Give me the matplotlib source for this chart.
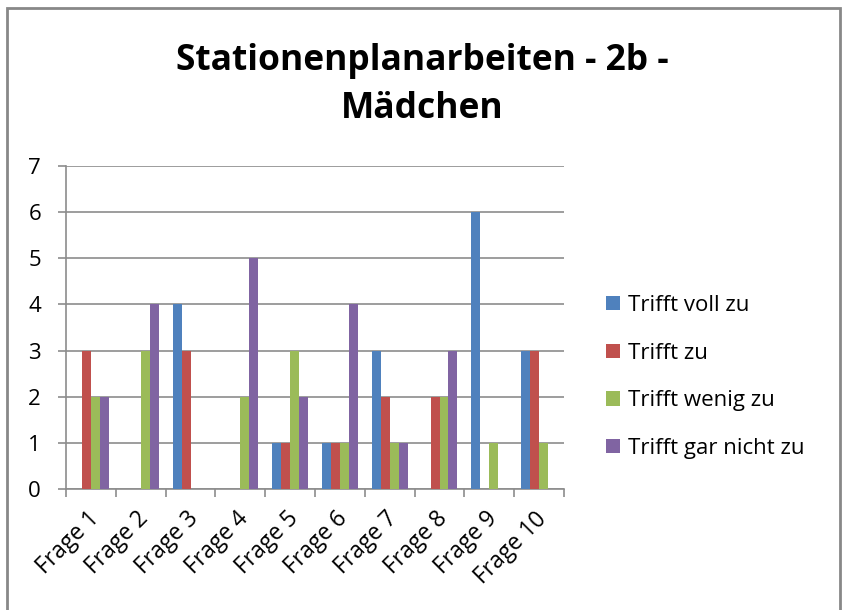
import matplotlib
matplotlib.use("Agg")
import matplotlib.pyplot as plt
from matplotlib.patches import Rectangle
from matplotlib.transforms import ScaledTranslation
import numpy as np

categories = ["Frage 1", "Frage 2", "Frage 3", "Frage 4", "Frage 5",
              "Frage 6", "Frage 7", "Frage 8", "Frage 9", "Frage 10"]
voll_zu = [0, 0, 4, 0, 1, 1, 3, 0, 6, 3]
zu = [3, 0, 3, 0, 1, 1, 2, 2, 0, 3]
wenig_zu = [2, 3, 0, 2, 3, 1, 1, 2, 1, 1]
gar_nicht_zu = [2, 4, 0, 5, 2, 4, 1, 3, 0, 0]
series_names = ["Trifft voll zu", "Trifft zu", "Trifft wenig zu", "Trifft gar nicht zu"]
colors = ["#4F81BD", "#C0504D", "#9BBB59", "#8064A2"]
yticks = [0, 1, 2, 3, 4, 5, 6, 7]

plt.rcParams['font.family'] = ['Open Sans', 'DejaVu Sans']

W, H = 842, 610
fig = plt.figure(figsize=(W / 100, H / 100), dpi=100)
fig.patch.set_facecolor("white")

# outer chart border
fig.patches.append(Rectangle((7 / W, -0.05), (840 - 7) / W, 1.05 - 8 / H,
                             transform=fig.transFigure, fill=False,
                             edgecolor="#888888", linewidth=2))

ax = fig.add_axes([66 / W, 1 - 489 / H, (564 - 66) / W, (489 - 166) / H])

x = np.arange(len(categories))
bw = 0.18
all_series = [voll_zu, zu, wenig_zu, gar_nicht_zu]
for i, (vals, name, c) in enumerate(zip(all_series, series_names, colors)):
    ax.bar(x + (i - 1.5) * bw, vals, width=bw, color=c, label=name, zorder=3)

ax.set_xlim(-0.5, len(categories) - 0.5)
ax.set_ylim(0, 7)
ax.set_yticks(yticks)
ax.set_yticklabels([str(t) for t in yticks], fontsize=16)
ax.yaxis.grid(True, color="#8C8C8C", linewidth=1.2, zorder=0)
ax.set_axisbelow(True)

for s in ["top", "right"]:
    ax.spines[s].set_visible(False)
for s in ["left", "bottom"]:
    ax.spines[s].set_color("#8C8C8C")
    ax.spines[s].set_linewidth(1.2)

ax.tick_params(axis="y", length=6, color="#8C8C8C", width=1.2, pad=12)
# category boundaries as ticks
ax.set_xticks(np.arange(len(categories) + 1) - 0.5, minor=False)
ax.set_xticklabels([])
ax.tick_params(axis="x", which="major", length=6, color="#8C8C8C", width=1.2)
ax.set_xticks(x, minor=True)
ax.set_xticklabels(categories, minor=True, rotation=45, ha="right",
                   rotation_mode="anchor", fontsize=16.5)
ax.tick_params(axis="x", which="minor", length=0, pad=13)
offset = ScaledTranslation(-4 / 100, 0, fig.dpi_scale_trans)
for lbl in ax.get_xticklabels(minor=True):
    lbl.set_transform(lbl.get_transform() + offset)

fig.text(422 / W, 1 - 61 / H, "Stationenplanarbeiten - 2b -", ha="center",
         va="center", fontsize=25.5, fontweight="bold")
fig.text(422 / W, 1 - 109 / H, "Mädchen", ha="center", va="center",
         fontsize=25.5, fontweight="bold")

leg = fig.legend(loc="upper left", bbox_to_anchor=(586 / W, 1 - 275 / H),
                 frameon=False, fontsize=16, handlelength=0.63,
                 handleheight=0.63, handletextpad=0.35, labelspacing=1.2)

fig.savefig("out.png", dpi=100, facecolor="white")
